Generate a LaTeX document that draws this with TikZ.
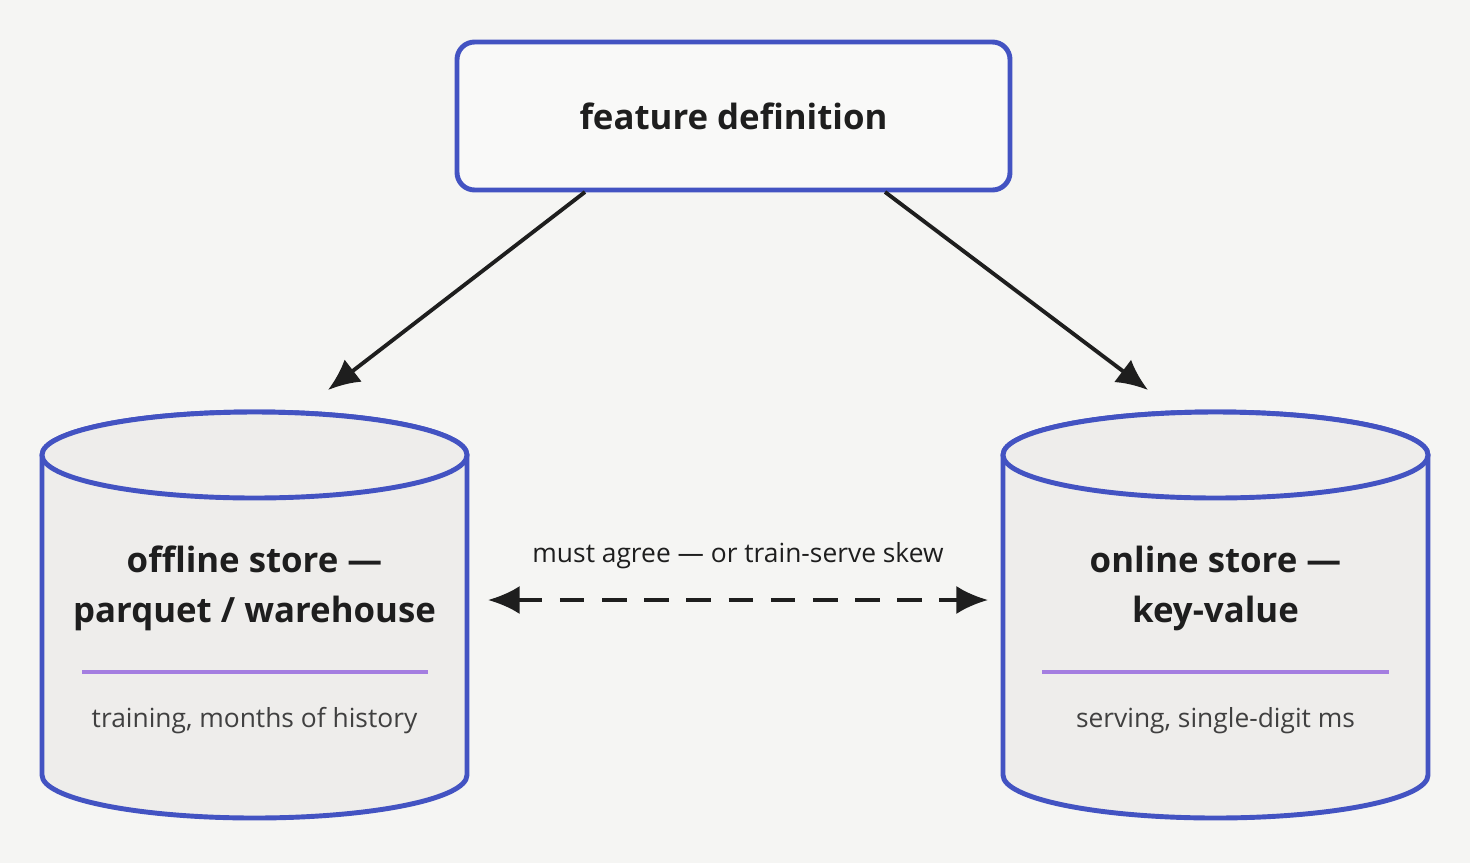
\documentclass[tikz,border=0pt]{standalone}
\usepackage{fontspec}
\setmainfont{Open Sans}
\usetikzlibrary{arrows.meta}
\definecolor{bg}{HTML}{F5F5F3}
\definecolor{edge}{HTML}{4353C2}
\definecolor{drum}{HTML}{EEEDEB}
\definecolor{rule}{HTML}{A47EE0}
\definecolor{ink}{HTML}{1E1E1E}
\tikzset{
  box/.style={draw=edge, line width=1.4pt, rounded corners=5pt, fill=bg!60!white},
  store/.style={draw=edge, line width=1.4pt, fill=drum},
  head/.style={font=\fontsize{9.9}{14.2}\selectfont\bfseries, text=ink, align=center},
  note/.style={font=\fontsize{7.5}{10}\selectfont, text=ink!85},
  link/.style={draw=ink, line width=1.1pt, -{Latex[length=9pt,width=8pt]}}
}
\newcommand{\drum}[2]{% center x, name
  \path[store] (#1-2.125,-4.55) -- (#1-2.125,-7.75) arc[start angle=180,end angle=360,x radius=2.125,y radius=0.43]
     -- (#1+2.125,-4.55) arc[start angle=0,end angle=180,x radius=2.125,y radius=0.43];
  \path[store] (#1,-4.55) ellipse[x radius=2.125,y radius=0.43];
}
\begin{document}
\begin{tikzpicture}
\fill[bg] (0,0) rectangle (14.7,-8.63);
\useasboundingbox (0,0) rectangle (14.7,-8.63);

% top box
\node[box, minimum width=5.53cm, minimum height=1.48cm, head] (def) at (7.335,-1.16) {feature definition};

% stores
\drum{2.545}{off}
\drum{12.155}{on}
\node[head] (offline) at (2.545,-5.88) {offline store —\\parquet / warehouse};
\node[head] (online) at (12.155,-5.88) {online store —\\key-value};
\draw[rule, line width=1.3pt] (0.82,-6.72) -- (4.28,-6.72);
\draw[rule, line width=1.3pt] (10.42,-6.72) -- (13.89,-6.72);
\node[note] (offuse) at (2.545,-7.21) {training, months of history};
\node[note] (onuse) at (12.155,-7.21) {serving, single-digit ms};

% connectors
\coordinate (offtop) at (3.28,-3.90);
\coordinate (ontop) at (11.48,-3.90);
\coordinate (offside) at (4.88,-6.0);
\coordinate (onside) at (9.88,-6.0);
\draw[link] (5.85,-1.92) -- (offtop);
\draw[link] (8.85,-1.92) -- (ontop);
\draw[link, {Latex[length=9pt,width=8pt]}-{Latex[length=9pt,width=8pt]}, dash pattern=on 7pt off 5pt] (offside) -- (onside)
  node[midway, above=5pt, note, text=ink] (skew) {must agree — or train-serve skew};
\end{tikzpicture}
\end{document}
